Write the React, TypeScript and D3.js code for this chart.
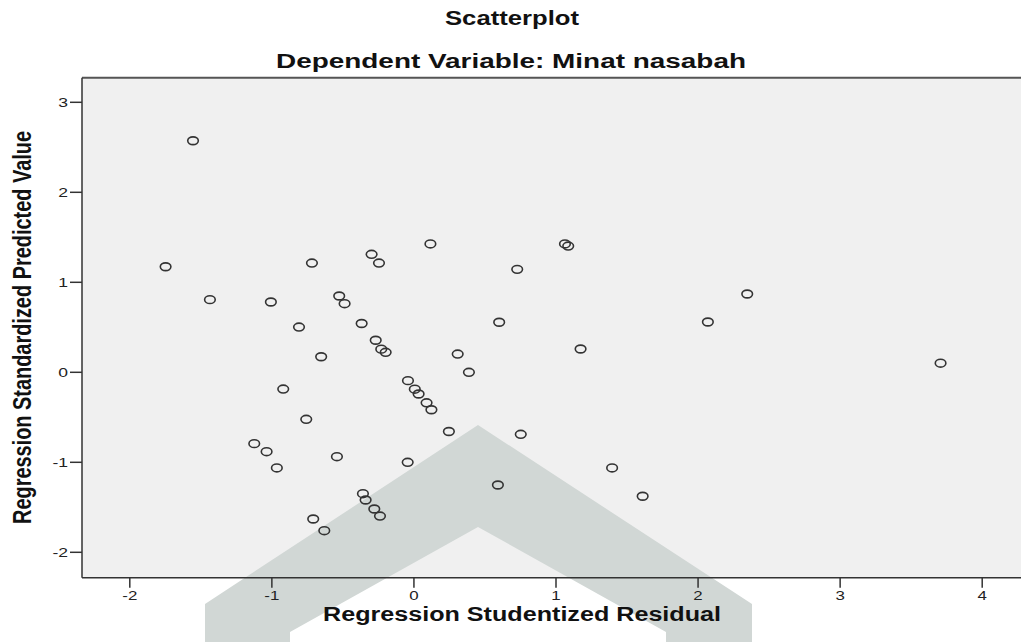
import React from 'react';
import * as d3 from 'd3';

// residuals (x) and predicted values (y)
const residual = [
  -1.555, -1.748, -1.436, -1.007, -0.718, -0.298, -0.246, 0.116, -0.526, -0.488,
  -0.809, -0.368, -0.269, -0.230, -0.199, -0.653, -0.920, -0.042, 0.006, 0.033,
  0.089, 0.123, 0.246, -0.758, -1.124, -1.037, -0.965, -0.542, -0.044, -0.359,
  -0.340, -0.279, -0.239, -0.709, -0.631, 1.063, 1.086, 0.727, 0.600, 1.173,
  0.308, 0.387, 0.752, 1.395, 1.610, 0.591, 2.346, 2.069, 3.707,
];
const predicted = [
  2.573, 1.173, 0.807, 0.781, 1.214, 1.311, 1.214, 1.426, 0.848, 0.762,
  0.503, 0.542, 0.356, 0.257, 0.222, 0.173, -0.186, -0.093, -0.188, -0.241,
  -0.339, -0.416, -0.658, -0.522, -0.793, -0.882, -1.063, -0.938, -1.000, -1.349,
  -1.419, -1.519, -1.597, -1.630, -1.760, 1.426, 1.403, 1.144, 0.556, 0.259,
  0.203, 0.000, -0.689, -1.063, -1.377, -1.252, 0.870, 0.559, 0.101,
];
const xTicks = [-2, -1, 0, 1, 2, 3, 4];
const yTicks = [-2, -1, 0, 1, 2, 3];

const W = 1021;
const H = 642;

const x = d3.scaleLinear().domain([-2, 4]).range([129.8, 982.2]);
const y = d3.scaleLinear().domain([-2, 3]).range([552.3, 102.3]);

const left = 82;
const top = 77.7;
const bottom = 577.7;

const font = '"Liberation Sans", Arial, sans-serif';

// watermark chevron from the source document (decoration only)
const chevron = [
  [205, 642], [205, 604], [478, 425], [752, 604], [752, 642],
  [666, 642], [666, 632], [478, 527], [290, 632], [290, 642],
];

export default function App() {
  return (
    <svg width={W} height={H} style={{ position: 'absolute', left: 0, top: 0, background: '#fff' }}>
      <rect x={left} y={top} width={W - left} height={bottom - top} fill="#f0f0f0" />
      <polygon points={chevron.map(p => p.join(',')).join(' ')} fill="#d1d7d5" />

      <text x={512} y={25} fontFamily={font} fontWeight="bold" fontSize={19.5}
        textAnchor="middle" textLength={134} lengthAdjust="spacingAndGlyphs" fill="#111">Scatterplot</text>
      <text x={511} y={68} fontFamily={font} fontWeight="bold" fontSize={19.5}
        textAnchor="middle" textLength={470} lengthAdjust="spacingAndGlyphs" fill="#111">Dependent Variable: Minat nasabah</text>

      {/* frame */}
      <line x1={left} x2={W} y1={top} y2={top} stroke="#555" strokeWidth={2} />
      <line x1={left} x2={left} y1={top} y2={bottom} stroke="#333" strokeWidth={1.5} />
      <line x1={left} x2={W} y1={bottom} y2={bottom} stroke="#333" strokeWidth={1.5} />

      {yTicks.map(t => (
        <g key={'y' + t}>
          <line x1={70} x2={left} y1={y(t)} y2={y(t)} stroke="#333" strokeWidth={1.5} />
          <text transform={`translate(68,${y(t) + 5}) scale(1.3,1)`} fontFamily={font}
            fontSize={13.5} textAnchor="end" fill="#222">{t}</text>
        </g>
      ))}
      {xTicks.map(t => (
        <g key={'x' + t}>
          <line x1={x(t)} x2={x(t)} y1={bottom} y2={bottom + 10} stroke="#333" strokeWidth={1.5} />
          <text transform={`translate(${x(t)},${bottom + 22.5}) scale(1.3,1)`} fontFamily={font}
            fontSize={13} textAnchor="middle" fill="#222">{t}</text>
        </g>
      ))}

      <text x={522} y={621} fontFamily={font} fontWeight="bold" fontSize={19.5}
        textAnchor="middle" textLength={398} lengthAdjust="spacingAndGlyphs" fill="#111">Regression Studentized Residual</text>
      <text transform="translate(31,327.5) scale(1.4,1) rotate(-90)" fontFamily={font} fontWeight="bold"
        fontSize={18.5} textAnchor="middle" textLength={393} lengthAdjust="spacingAndGlyphs" fill="#111">Regression Standardized Predicted Value</text>

      {residual.map((r, i) => (
        <ellipse key={i} cx={x(r)} cy={y(predicted[i])} rx={5.3} ry={3.9}
          fill="none" stroke="#333" strokeWidth={1.6} />
      ))}
    </svg>
  );
}
